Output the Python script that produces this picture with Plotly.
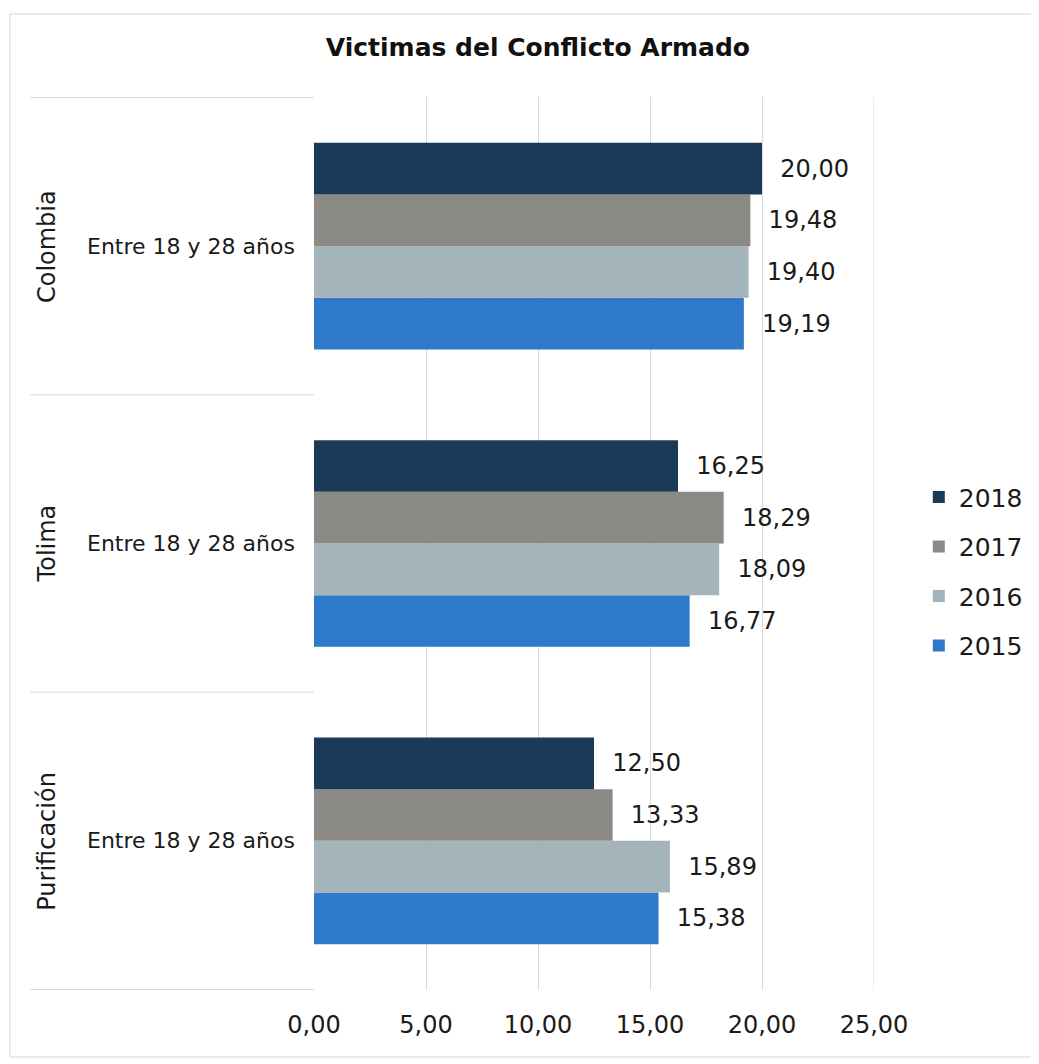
import plotly.graph_objects as go

title = "Victimas del Conflicto Armado"
groups = ["Colombia", "Tolima", "Purificación"]
age_label = "Entre 18 y 28 años"
years = ["2015", "2016", "2017", "2018"]
values = {
    "2015": [19.19, 16.77, 15.38],
    "2016": [19.40, 18.09, 15.89],
    "2017": [19.48, 18.29, 13.33],
    "2018": [20.00, 16.25, 12.50],
}
colors = {"2015": "#2e79c9", "2016": "#a3b5ba", "2017": "#8b8a84", "2018": "#1b3a58"}
x_ticks = [0, 5, 10, 15, 20, 25]

FONT = "DejaVu Sans"
TXT = "#1a1a1a"
fig = go.Figure()
for i, yr in enumerate(years):
    fig.add_trace(go.Bar(
        y=groups, x=values[yr], name=yr, orientation="h",
        marker=dict(color=colors[yr], line=dict(width=0)),
        text=values[yr], texttemplate="\u00a0\u00a0%{x:.2f}",
        textposition="outside", cliponaxis=False,
        textfont=dict(size=24, color=TXT, family=FONT),
        legendgroup=yr, legendrank=len(years) - i,
    ))

shapes = []
for b in [-0.5, 0.5, 1.5, 2.5]:
    shapes.append(dict(type="line", xref="paper", yref="y", x0=-0.507, x1=0, y0=b, y1=b,
                       line=dict(color="#d9d9d9", width=1)))
shapes.append(dict(type="line", xref="x", yref="paper", x0=x_ticks[-1], x1=x_ticks[-1], y0=0, y1=1,
                   line=dict(color="#d9d9d9", width=1), layer="below"))
shapes.append(dict(type="rect", xref="paper", yref="paper", x0=-0.543, x1=1.284, y0=-0.075, y1=1.093,
                   line=dict(color="#d6d6d6", width=1), layer="below"))

annotations = []
for g in groups:
    annotations.append(dict(xref="paper", yref="y", x=-0.22, y=g, text=age_label, showarrow=False,
                            xanchor="center", yanchor="middle", font=dict(size=22, color=TXT, family=FONT)))
    annotations.append(dict(xref="paper", yref="y", x=-0.477, y=g, text=g, showarrow=False, textangle=-90,
                            xanchor="center", yanchor="middle", font=dict(size=24, color=TXT, family=FONT)))

fig.update_layout(
    width=1039, height=1064,
    paper_bgcolor="white", plot_bgcolor="white",
    margin=dict(l=306, r=173, t=89, b=82),
    title=dict(text="<b>" + title + "</b>", x=0.51, xanchor="center", y=0.963, yanchor="middle",
               font=dict(size=25, color="#111111", family=FONT)),
    separators=",.",
    barmode="group", bargap=0.305, bargroupgap=0,
    showlegend=True,
    legend=dict(x=1.08, y=0.469, xanchor="left", yanchor="middle", traceorder="grouped",
                tracegroupgap=14, font=dict(size=25, color=TXT, family=FONT),
                bgcolor="rgba(0,0,0,0)"),
    xaxis=dict(range=[0, 25], tickvals=x_ticks, tickformat=".2f", showgrid=True, gridcolor="#d9d9d9",
               gridwidth=1, zeroline=False, showline=False, ticks="", ticklabelstandoff=18,
               tickfont=dict(size=24, color=TXT, family=FONT), fixedrange=True),
    yaxis=dict(categoryorder="array", categoryarray=groups[::-1], showticklabels=False,
               showgrid=False, zeroline=False, showline=False, ticks=""),
    shapes=shapes, annotations=annotations,
)
fig.write_html("out.html")
